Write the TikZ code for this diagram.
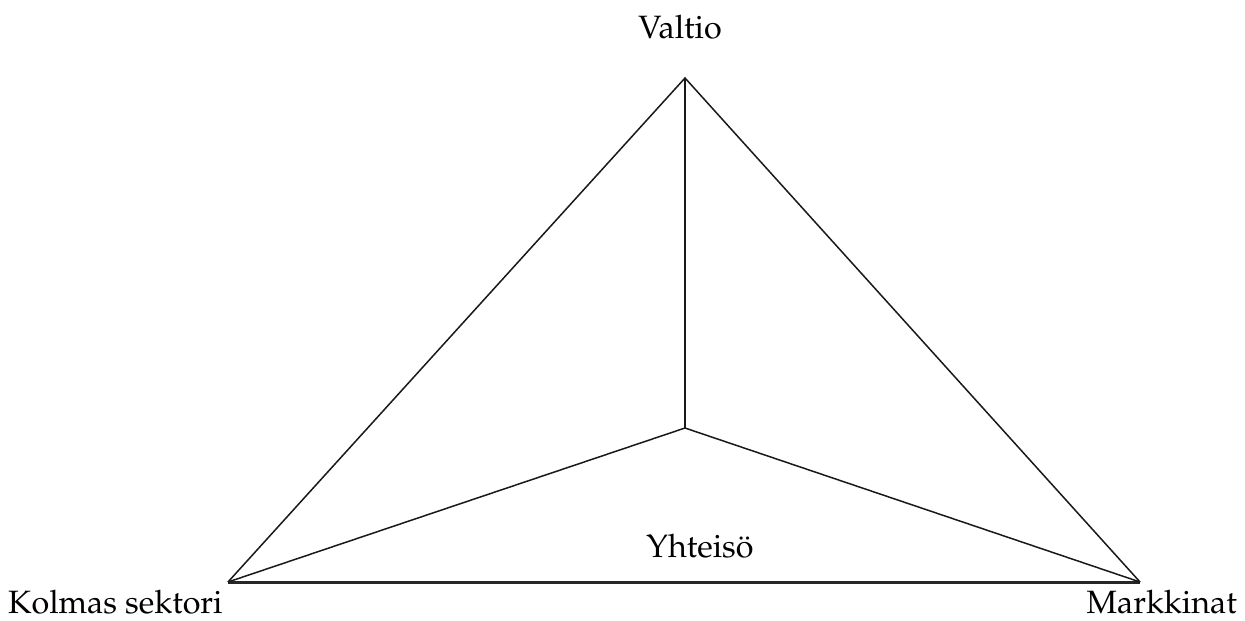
\documentclass[tikz,border=0pt]{standalone}
\usepackage[T1]{fontenc}
\usepackage{mathpazo}
\begin{document}
\begin{tikzpicture}[x=1pt,y=-1pt,
  edge/.style={draw=black!90,line width=1.5pt,line join=miter},
  base/.style={draw=black!85,line width=3pt},
  lbl/.style={inner sep=0pt,font=\fontsize{32.3}{38}\selectfont}]
\useasboundingbox (0,0) rectangle (1245,621);
\coordinate (A) at (685,78);
\coordinate (C) at (685,428);
\coordinate (L) at (228,582);
\coordinate (R) at (1140,582);
\draw[base] (L) -- (R);
\draw[edge] (L) -- (A) -- (R);
\draw[edge] (A) -- (C);
\draw[edge] (L) -- (C) -- (R);
\node[lbl,anchor=base] (v) at (680,38) {Valtio};
\node[lbl,anchor=base west] (k) at (8,613) {Kolmas sektori};
\node[lbl,anchor=base east] (m) at (1237,613) {Markkinat};
\node[lbl,anchor=base] (y) at (700,557) {Yhteisö};
\end{tikzpicture}
\end{document}
